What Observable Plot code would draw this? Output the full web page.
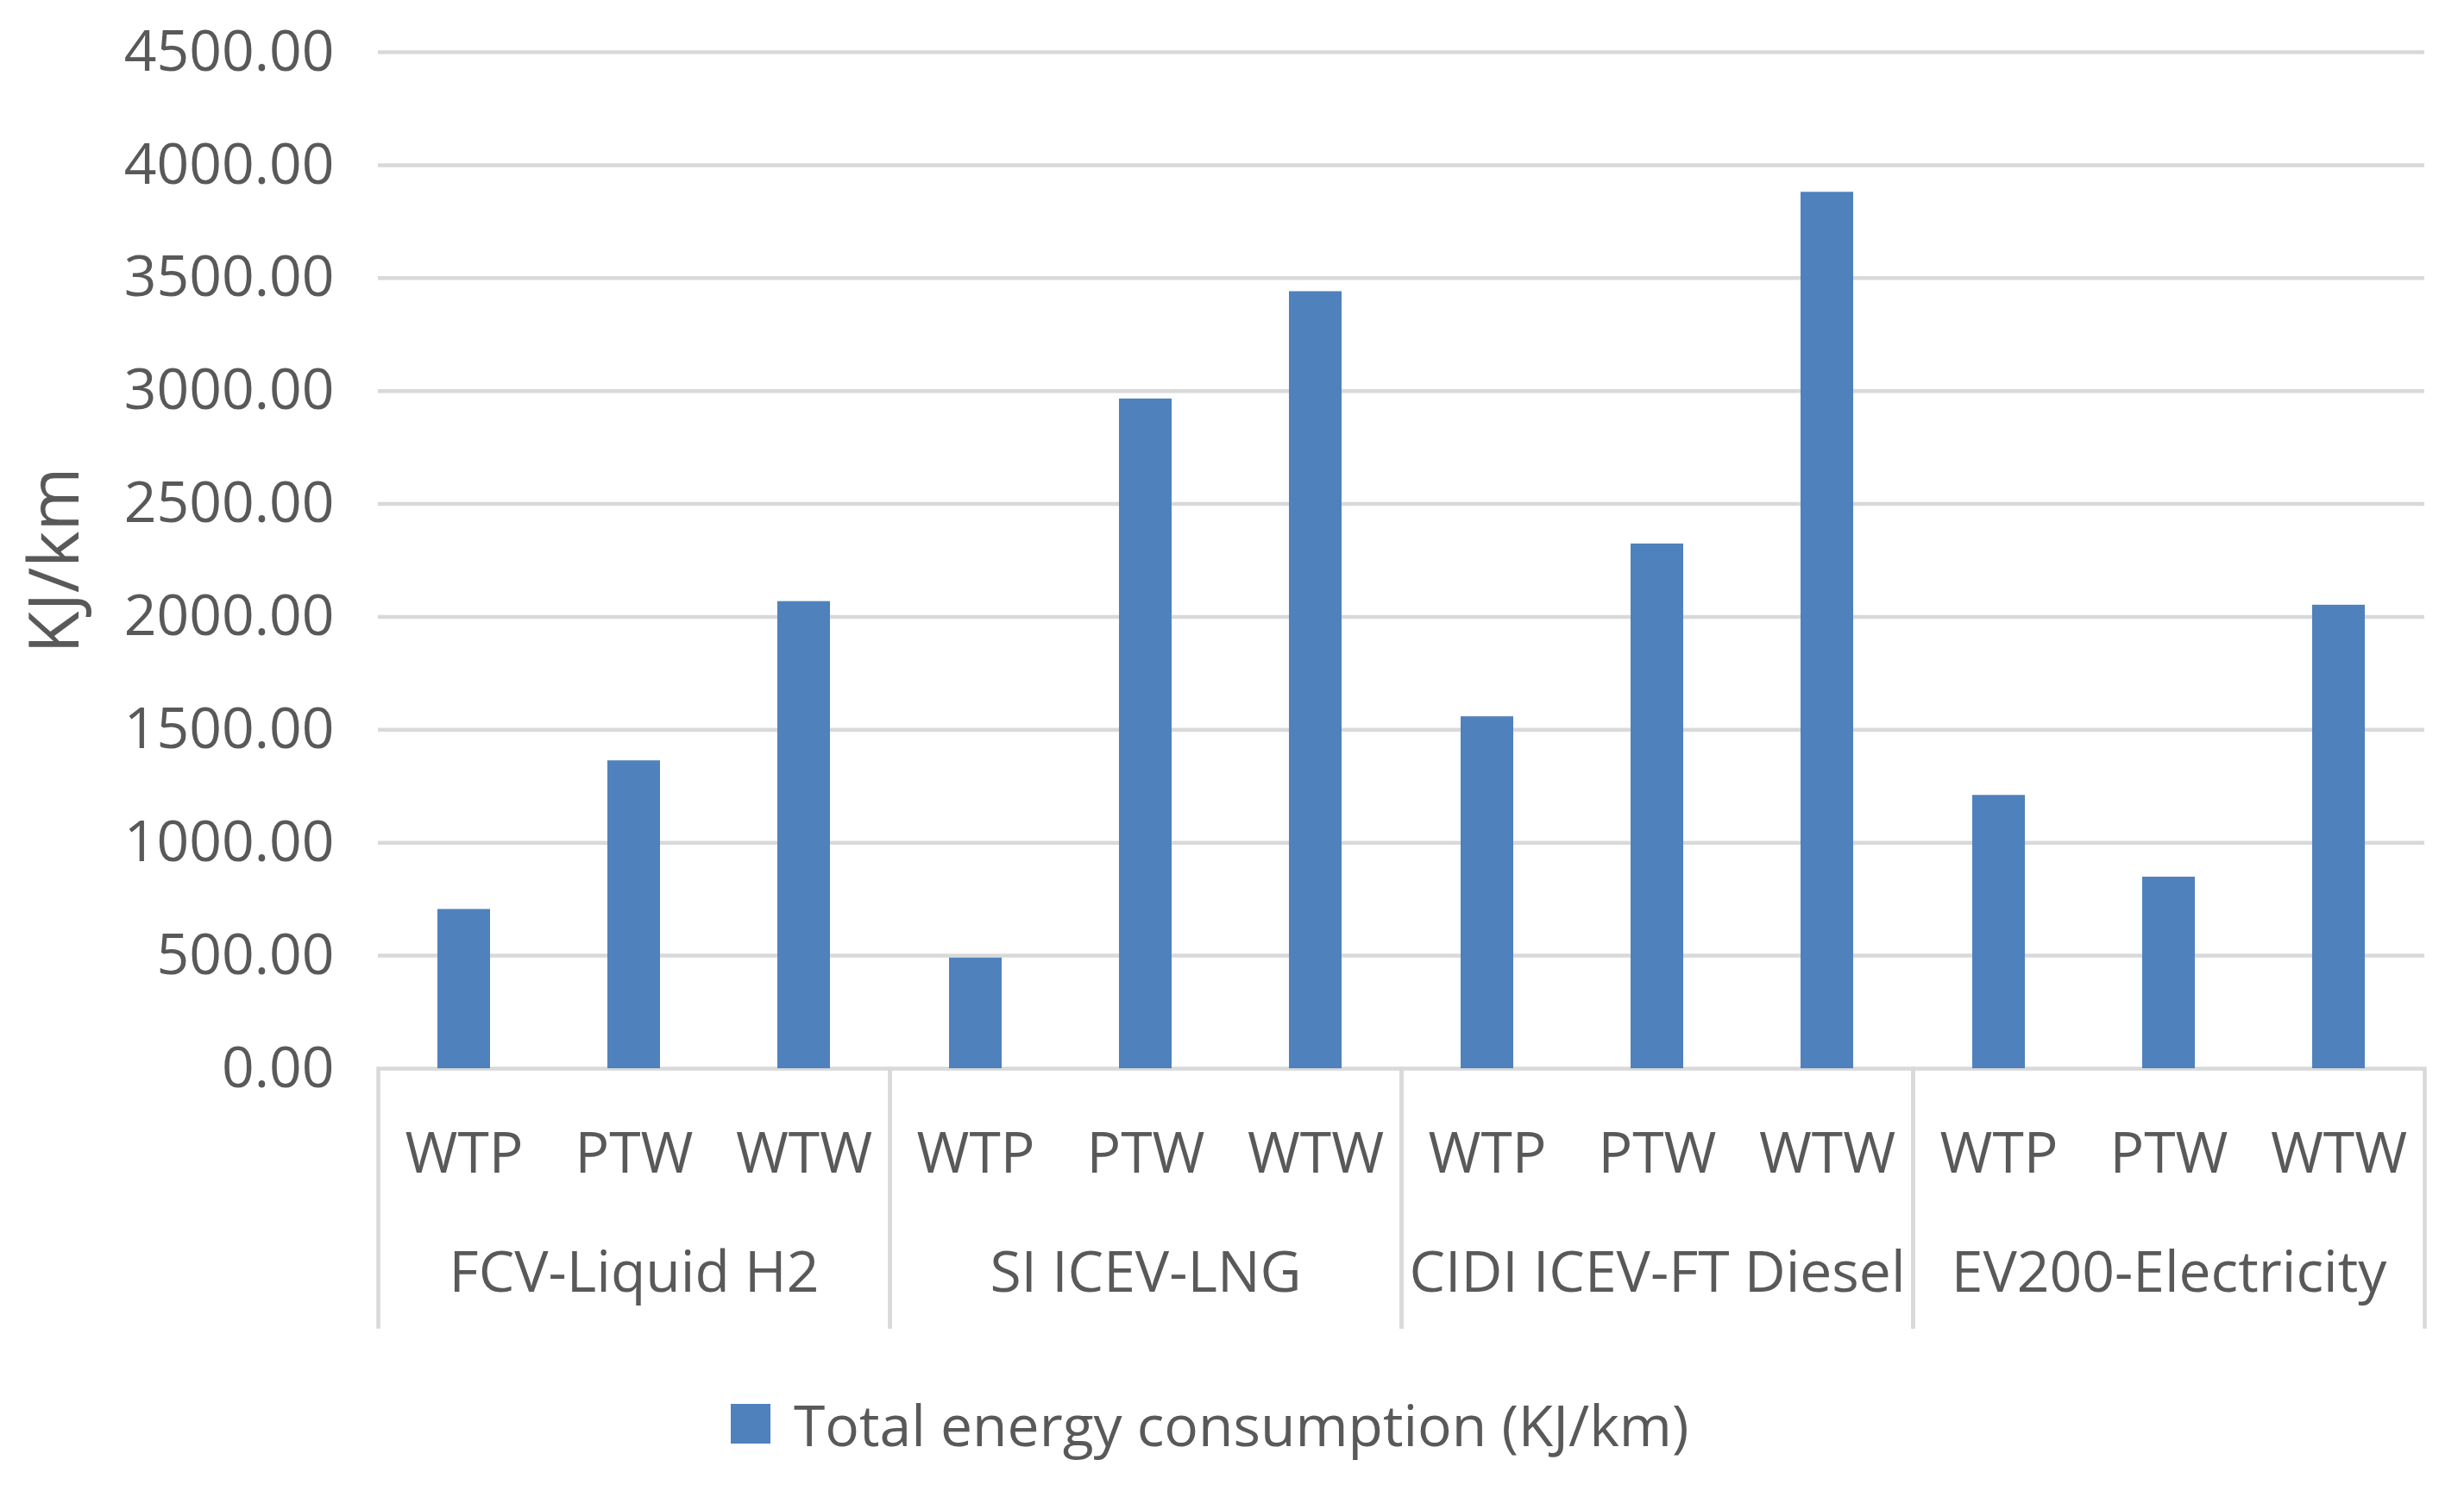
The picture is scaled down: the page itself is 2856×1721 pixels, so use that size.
<!DOCTYPE html>
<html><head><meta charset="utf-8">
<script src="https://cdn.jsdelivr.net/npm/d3@7"></script>
<script src="https://cdn.jsdelivr.net/npm/@observablehq/plot@0.6"></script>
<style>
body{margin:0;background:#fff;}
#chart{width:2856px;}
.legend{position:relative;height:121px;width:2856px;font-family:"Open Sans",sans-serif;font-size:66px;color:#595959;}
.legend .sw{position:absolute;left:847px;top:27px;width:46px;height:46px;background:#4f81bd;}
.legend .tx{position:absolute;left:920px;top:50px;transform:translateY(-50%);white-space:nowrap;line-height:1;}
</style></head><body><div id="chart"></div>
<script>
const groups = ["FCV-Liquid H2", "SI ICEV-LNG", "CIDI ICEV-FT Diesel", "EV200-Electricity"];
const stages = ["WTP", "PTW", "WTW"];
const fcvValues = [705, 1363, 2068];
const siValues = [490, 2965, 3440];
const cidiValues = [1558, 2323, 3880];
const evValues = [1210, 848, 2052];
const yTicks = [0, 500, 1000, 1500, 2000, 2500, 3000, 3500, 4000, 4500];
const yLabel = "KJ/km";
const seriesName = "Total energy consumption (KJ/km)";

const valuesByGroup = [fcvValues, siValues, cidiValues, evValues];
const data = groups.flatMap((g, i) => stages.map((s, j) => ({group: g, stage: s, value: valuesByGroup[i][j]})));

const grid = "#d9d9d9";
const plotTop = 60, plotBottomMargin = 362, H = 1600;
const innerH = H - plotTop - plotBottomMargin;
const plot = Plot.plot({
  width: 2856, height: H,
  marginLeft: 437, marginRight: 46, marginTop: plotTop, marginBottom: plotBottomMargin,
  style: {fontFamily: "Open Sans", fontSize: "66px", color: "#595959", background: "#fff"},
  fx: {domain: groups, paddingInner: 0, paddingOuter: 0, label: null},
  x: {domain: stages, paddingInner: 0.69, paddingOuter: 0.345, label: null},
  y: {domain: [0, 4500], label: yLabel},
  marks: [
    Plot.gridY(yTicks, {stroke: grid, strokeOpacity: 1, strokeWidth: 4.5}),
    Plot.frame({anchor: "left", stroke: grid, strokeOpacity: 1, strokeWidth: 4.5, insetTop: innerH, insetBottom: -299}),
    Plot.frame({anchor: "right", stroke: grid, strokeOpacity: 1, strokeWidth: 4.5, insetTop: innerH, insetBottom: -299}),
    Plot.barY(data, {fx: "group", x: "stage", y: "value", fill: "#4f81bd"}),
    Plot.axisY(yTicks, {tickSize: 0, tickPadding: 51, tickFormat: d => d.toFixed(2), label: null}),
    Plot.axisY({ticks: [], tickSize: 0, label: yLabel, labelAnchor: "center", labelArrow: "none", labelOffset: 404, fontSize: 80}),
    Plot.axisX({tickSize: 0, tickPadding: 74}),
    Plot.axisFx({anchor: "bottom", tickSize: 0, tickPadding: 212, label: null})
  ]
});
document.getElementById("chart").appendChild(plot);

const leg = document.createElement("div");
leg.className = "legend";
leg.innerHTML = `<div class="sw"></div><div class="tx"></div>`;
leg.querySelector(".tx").textContent = seriesName;
document.getElementById("chart").appendChild(leg);
</script>
</body></html>
